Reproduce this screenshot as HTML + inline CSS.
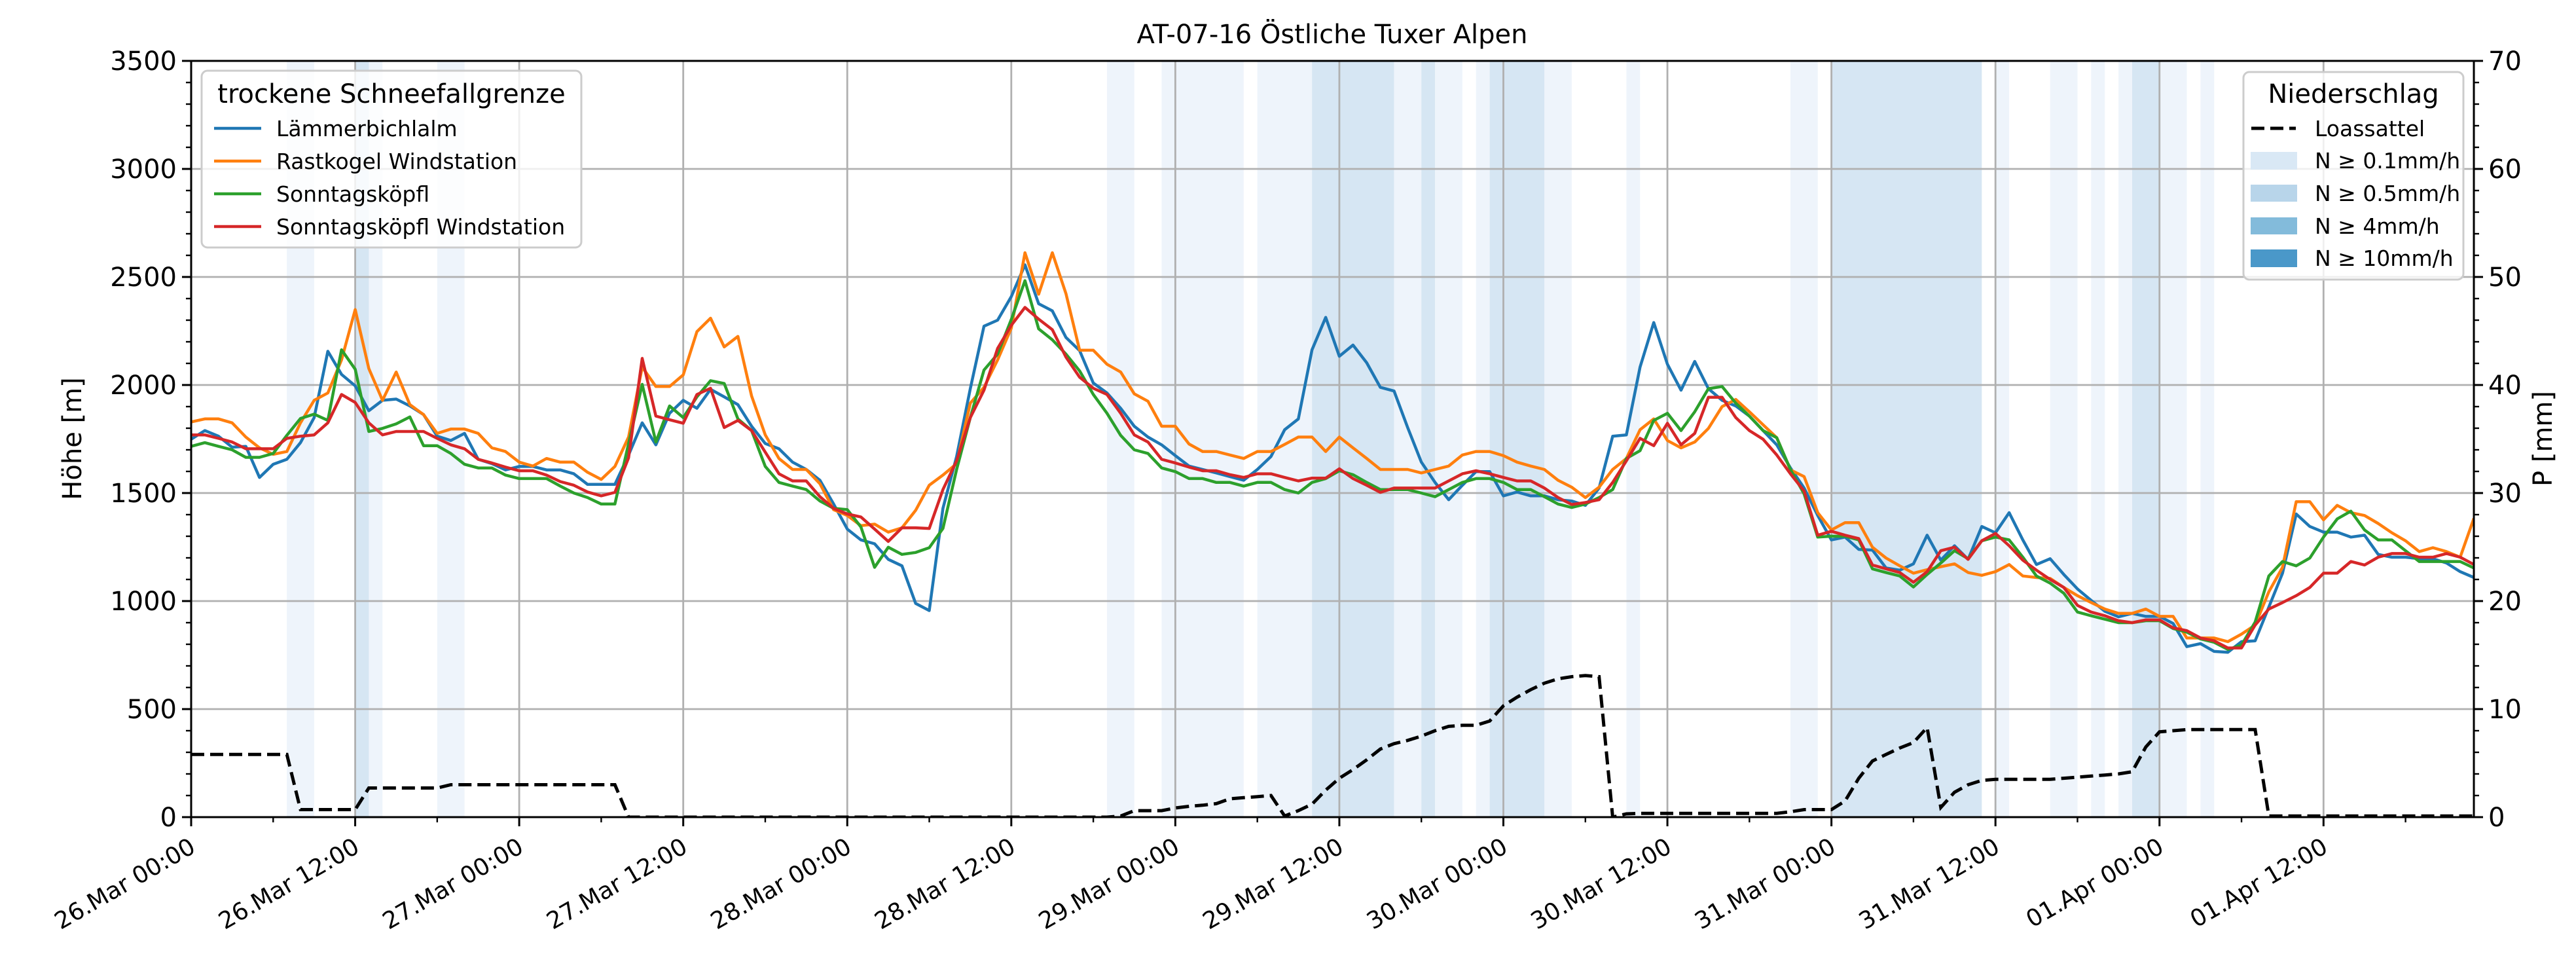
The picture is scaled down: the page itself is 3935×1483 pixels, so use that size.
<!DOCTYPE html>
<html><head><meta charset="utf-8">
<style>
html,body{margin:0;padding:0;background:#fff;}
svg{display:block;font-family:"DejaVu Sans","Liberation Sans",sans-serif;}
</style></head>
<body>
<svg id="chart" xmlns="http://www.w3.org/2000/svg" width="3935" height="1483" viewBox="0 0 3935 1483">
<rect x="0" y="0" width="3935" height="1483" fill="#fff"/>
<defs><clipPath id="plotclip"><rect x="292" y="93" width="3487" height="1155"/></clipPath></defs>
<g id="bands" clip-path="url(#plotclip)"></g>
<g id="grid"></g>
<g id="series" clip-path="url(#plotclip)"></g>
<g id="axes"></g>
<text x="2035" y="66" font-size="40" text-anchor="middle">AT-07-16 Östliche Tuxer Alpen</text>
<text transform="translate(124,670) rotate(-90)" font-size="40" text-anchor="middle">Höhe [m]</text>
<text transform="translate(3898,670) rotate(-90)" font-size="40" text-anchor="middle">P [mm]</text>

<g>
<rect x="308" y="108" width="580" height="270" rx="9" fill="#fff" fill-opacity="0.8" stroke="#cccccc" stroke-width="3"/>
<text x="598" y="157" font-size="40" text-anchor="middle">trockene Schneefallgrenze</text>
<g><line x1="327" y1="196" x2="399" y2="196" stroke="#1f77b4" stroke-width="4.5"/><text x="422" y="208" font-size="33">Lämmerbichlalm</text></g>
<g><line x1="327" y1="246" x2="399" y2="246" stroke="#ff7f0e" stroke-width="4.5"/><text x="422" y="258" font-size="33">Rastkogel Windstation</text></g>
<g><line x1="327" y1="296" x2="399" y2="296" stroke="#2ca02c" stroke-width="4.5"/><text x="422" y="308" font-size="33">Sonntagsköpfl</text></g>
<g><line x1="327" y1="346" x2="399" y2="346" stroke="#d62728" stroke-width="4.5"/><text x="422" y="358" font-size="33">Sonntagsköpfl Windstation</text></g>
</g>

<g>
<rect x="3427" y="110" width="336" height="317" rx="9" fill="#fff" fill-opacity="0.8" stroke="#cccccc" stroke-width="3"/>
<text x="3595" y="157" font-size="40" text-anchor="middle">Niederschlag</text>
<g><line x1="3439" y1="196" x2="3507" y2="196" stroke="#000" stroke-width="5" stroke-dasharray="20,9"/><text x="3536" y="208" font-size="33">Loassattel</text></g>
<g><rect x="3438" y="232" width="71" height="27" fill="#d9e8f5"/><text x="3536" y="257" font-size="33">N ≥ 0.1mm/h</text></g>
<g><rect x="3438" y="282" width="71" height="26" fill="#b8d5ea"/><text x="3536" y="307" font-size="33">N ≥ 0.5mm/h</text></g>
<g><rect x="3438" y="332" width="71" height="26" fill="#83bbdb"/><text x="3536" y="357" font-size="33">N ≥ 4mm/h</text></g>
<g><rect x="3438" y="381" width="71" height="27" fill="#4a98c9"/><text x="3536" y="406" font-size="33">N ≥ 10mm/h</text></g>
</g>
</svg>
<script>
// ---- data (hourly, t = hours since 26.Mar 00:00) ----
const lammerbichlalm = [1749,1789,1763,1712,1716,1572,1633,1656,1733,1849,2156,2049,1996,1881,1929,1935,1903,1863,1763,1743,1776,1656,1636,1607,1623,1623,1607,1607,1589,1540,1540,1540,1676,1825,1723,1869,1929,1892,1980,1945,1909,1809,1729,
1705,1643,1609,1559,1449,1333,1283,1265,1193,1163,989,956,1429,1669,1983,2272,2300,2409,2556,2376,2343,2220,2159,2009,1963,1892,1809,1759,1723,1673,1625,1609,1593,1576,1559,1609,1669,1793,1843,2163,2313,
2133,2185,2103,1989,1972,1803,1643,1549,1469,1536,1599,1599,1487,1505,1487,1487,1469,1463,1443,1523,1763,1769,2083,2289,2096,1976,2109,1983,1929,1903,1856,1789,1723,1616,1523,1396,1283,1296,1239,1236,1153,1143,
1172,1305,1189,1256,1193,1345,1316,1409,1283,1169,1196,1123,1056,1003,953,927,943,929,929,896,789,803,767,763,812,816,972,1129,1403,1345,1319,1319,1296,1305,1216,1203,1203,1196,1196,1176,1136,1109];
const rastkogel = [1829,1843,1843,1825,1759,1709,1679,1692,1825,1929,1963,2116,2349,2076,1929,2060,1909,1863,1776,1796,1796,1776,1709,1692,1643,1625,1660,1643,1643,1596,1563,1623,1759,2083,1993,1993,2047,2247,2309,2176,2225,1949,1769,
1660,1609,1609,1543,1423,1396,1349,1356,1319,1339,1420,1536,1583,1636,1916,1989,2116,2263,2612,2420,2612,2423,2161,2161,2096,2060,1959,1925,1809,1809,1727,1692,1692,1676,1660,1692,1692,1725,1759,1759,1692,
1759,1709,1660,1609,1609,1609,1593,1609,1625,1676,1692,1692,1673,1643,1625,1609,1559,1527,1479,1527,1609,1660,1793,1843,1743,1709,1736,1799,1900,1933,1876,1816,1756,1607,1576,1409,1329,1363,1363,1249,1199,1163,
1129,1145,1159,1172,1132,1119,1136,1169,1116,1109,1105,1063,1025,993,963,943,943,963,929,929,829,829,829,812,847,889,1043,1156,1460,1460,1376,1443,1409,1396,1359,1316,1279,1229,1247,1229,1203,1383];
const sonntagskoepfl = [1716,1733,1716,1700,1665,1665,1683,1767,1845,1865,1836,2163,2073,1785,1799,1820,1852,1719,1719,1683,1633,1616,1616,1583,1567,1567,1567,1532,1500,1479,1449,1449,1729,2003,1736,1903,1849,1945,2020,2007,1843,1789,1623,
1549,1532,1516,1463,1429,1423,1343,1156,1249,1216,1225,1247,1336,1609,1849,2069,2143,2303,2483,2260,2209,2143,2065,1956,1869,1767,1700,1683,1616,1599,1567,1567,1549,1549,1532,1549,1549,1516,1500,1549,1567,
1603,1585,1549,1516,1516,1516,1500,1483,1516,1549,1567,1567,1549,1516,1516,1483,1449,1433,1449,1479,1516,1660,1696,1836,1869,1789,1876,1983,1993,1916,1856,1789,1756,1609,1496,1296,1300,1300,1283,1149,1132,1116,
1065,1123,1176,1233,1196,1279,1296,1283,1203,1116,1083,1036,949,932,916,900,900,909,909,873,856,825,809,776,796,903,1116,1183,1163,1199,1296,1380,1416,1329,1283,1283,1233,1183,1183,1183,1183,1153];
const sonntagskoepflWind = [1769,1769,1753,1736,1705,1705,1705,1753,1763,1769,1825,1956,1919,1825,1769,1785,1785,1785,1753,1723,1705,1656,1639,1620,1603,1603,1583,1553,1536,1505,1487,1503,1663,2123,1856,1839,1823,1956,1985,1803,1836,1789,1689,
1589,1556,1556,1483,1429,1403,1389,1333,1276,1339,1339,1336,1516,1649,1849,1976,2169,2276,2359,2305,2256,2129,2036,1985,1956,1869,1769,1736,1656,1639,1620,1603,1603,1585,1572,1589,1589,1572,1556,1569,1569,
1612,1567,1536,1503,1523,1523,1523,1523,1556,1589,1603,1589,1572,1556,1556,1523,1479,1447,1456,1469,1549,1649,1753,1719,1823,1723,1776,1943,1943,1849,1789,1749,1676,1589,1509,1305,1323,1305,1289,1167,1149,1132,
1087,1136,1233,1249,1193,1279,1313,1256,1189,1143,1100,1063,980,949,932,909,900,913,913,876,863,829,816,783,783,889,963,993,1025,1063,1129,1129,1183,1167,1203,1220,1220,1203,1203,1220,1203,1169];
const loassattelP = [5.8,5.8,5.8,5.8,5.8,5.8,5.8,5.8,0.7,0.7,0.7,0.7,0.7,2.7,2.7,2.7,2.7,2.7,2.7,3.0,3.0,3.0,3.0,3.0,3.0,3.0,3.0,3.0,3.0,3.0,3.0,3.0,
0,0,0,0,0,0,0,0,0,0,0,0,0,0,0,0,0,0,0,0,0,0,0,0,0,0,0,0,0,0,0,0,0,0,0,0,
0.1,0.6,0.6,0.6,0.85,1.0,1.1,1.25,1.7,1.8,1.9,2.0,0.1,0.6,1.2,2.5,3.6,4.4,5.3,6.3,6.8,7.1,7.5,8.0,8.4,8.5,8.5,8.9,10.3,11.1,11.8,12.4,12.8,13.0,13.1,13.0,0,0.3,
0.35,0.35,0.35,0.35,0.35,0.35,0.35,0.35,0.35,0.35,0.35,0.5,0.7,0.7,0.7,1.5,3.6,5.2,5.8,6.4,6.9,8.3,0.9,2.3,3.0,3.4,3.5,3.5,3.5,3.5,3.5,3.6,3.7,3.8,3.9,4.0,4.2,6.5,7.9,8.0,
8.1,8.1,8.1,8.1,8.1,8.1,0.1,0.1,0.1,0.1,0.1,0.1,0.1,0.1,0.1,0.1,0.1,0.1,0.1,0.1,0.1,0.1];
// precipitation intensity bands [startHour, endHour]
const bandsLight = [[7,9],[13,14],[18,20],[67,69],[71,77],[78,82],[88,90],[91,93],[94,95],[99,101],[105,106],[117,119],[132,133],[136,138],[139,140],[141,142],[144,146],[147,148]];
const bandsMedium = [[12,13],[82,88],[90,91],[95,99],[120,131],[142,144]];
const xTickHours = [0,12,24,36,48,60,72,84,96,108,120,132,144,156];
const xTickLabels = ["26.Mar 00:00","26.Mar 12:00","27.Mar 00:00","27.Mar 12:00","28.Mar 00:00","28.Mar 12:00","29.Mar 00:00","29.Mar 12:00","30.Mar 00:00","30.Mar 12:00","31.Mar 00:00","31.Mar 12:00","01.Apr 00:00","01.Apr 12:00"];
const yTicks = [0,500,1000,1500,2000,2500,3000,3500];
const y2Ticks = [0,10,20,30,40,50,60,70];

// ---- axes functions ----
const L=292,R=3779,T=93,B=1248, XMAX=167;
const X = t => L + t*(R-L)/XMAX;
const Y = v => B - v*(B-T)/3500;
const Y2 = p => B - p*(B-T)/70;
const NS="http://www.w3.org/2000/svg";
function mk(tag, attrs, parent){const e=document.createElementNS(NS,tag);for(const k in attrs)e.setAttribute(k,attrs[k]);parent.appendChild(e);return e;}

const gB=document.getElementById('bands');
bandsLight.forEach(b=>{
  const r=mk('rect',{x:X(b[0]),y:T,width:X(b[1])-X(b[0]),height:B-T,fill:'#eef4fb'},gB);
  
  
});
bandsMedium.forEach(b=>{
  const r=mk('rect',{x:X(b[0]),y:T,width:X(b[1])-X(b[0]),height:B-T,fill:'#d6e6f3'},gB);
  
  
});

const gG=document.getElementById('grid');
xTickHours.forEach(h=>{
  const l=mk('line',{x1:X(h),x2:X(h),y1:T,y2:B,stroke:'#b0b0b0','stroke-width':2.8},gG);
  
  
});
yTicks.forEach(v=>{
  const l=mk('line',{x1:L,x2:R,y1:Y(v),y2:Y(v),stroke:'#b0b0b0','stroke-width':2.8},gG);
  
  
});

const gS=document.getElementById('series');
function drawLine(arr,color,name){
  const pts=arr.map((v,i)=>X(i).toFixed(1)+','+Y(v).toFixed(1)).join(' ');
  const p=mk('polyline',{points:pts,fill:'none',stroke:color,'stroke-width':4.5,'stroke-linejoin':'round'},gS);
  
  
}
drawLine(lammerbichlalm,'#1f77b4','line-laemmerbichlalm');
drawLine(rastkogel,'#ff7f0e','line-rastkogel-windstation');
drawLine(sonntagskoepfl,'#2ca02c','line-sonntagskoepfl');
drawLine(sonntagskoepflWind,'#d62728','line-sonntagskoepfl-windstation');
{
  const pts=loassattelP.map((v,i)=>X(i).toFixed(1)+','+Y2(v).toFixed(1)).join(' ');
  const p=mk('polyline',{points:pts,fill:'none',stroke:'#000','stroke-width':5,'stroke-dasharray':'20,9'},gS);
  
  
}

const gA=document.getElementById('axes');
mk('rect',{x:L,y:T,width:R-L,height:B-T,fill:'none',stroke:'#000','stroke-width':3},gA);
xTickHours.forEach((h,i)=>{
  mk('line',{x1:X(h),x2:X(h),y1:B,y2:B+14,stroke:'#000','stroke-width':3},gA);
  const t=mk('text',{transform:'translate('+(X(h)-4)+','+(B+30)+') rotate(-30)','text-anchor':'end','dominant-baseline':'hanging','font-size':36},gA);
  t.textContent=xTickLabels[i];
  
  
});
for(let h=6;h<XMAX;h+=12){mk('line',{x1:X(h),x2:X(h),y1:B,y2:B+8,stroke:'#000','stroke-width':2.4},gA);}
yTicks.forEach(v=>{
  mk('line',{x1:L-14,x2:L,y1:Y(v),y2:Y(v),stroke:'#000','stroke-width':3},gA);
  const t=mk('text',{x:L-22,y:Y(v)+14,'text-anchor':'end','font-size':40},gA);
  t.textContent=v;
  
  
});
for(let v=100;v<3500;v+=100){if(v%500)mk('line',{x1:L-8,x2:L,y1:Y(v),y2:Y(v),stroke:'#000','stroke-width':2.4},gA);}
y2Ticks.forEach(p=>{
  mk('line',{x1:R,x2:R+14,y1:Y2(p),y2:Y2(p),stroke:'#000','stroke-width':3},gA);
  const t=mk('text',{x:R+22,y:Y2(p)+14,'text-anchor':'start','font-size':40},gA);
  t.textContent=p;
  
  
});
for(let p=2;p<70;p+=2){if(p%10)mk('line',{x1:R,x2:R+8,y1:Y2(p),y2:Y2(p),stroke:'#000','stroke-width':2.4},gA);}
</script>
</body></html>
